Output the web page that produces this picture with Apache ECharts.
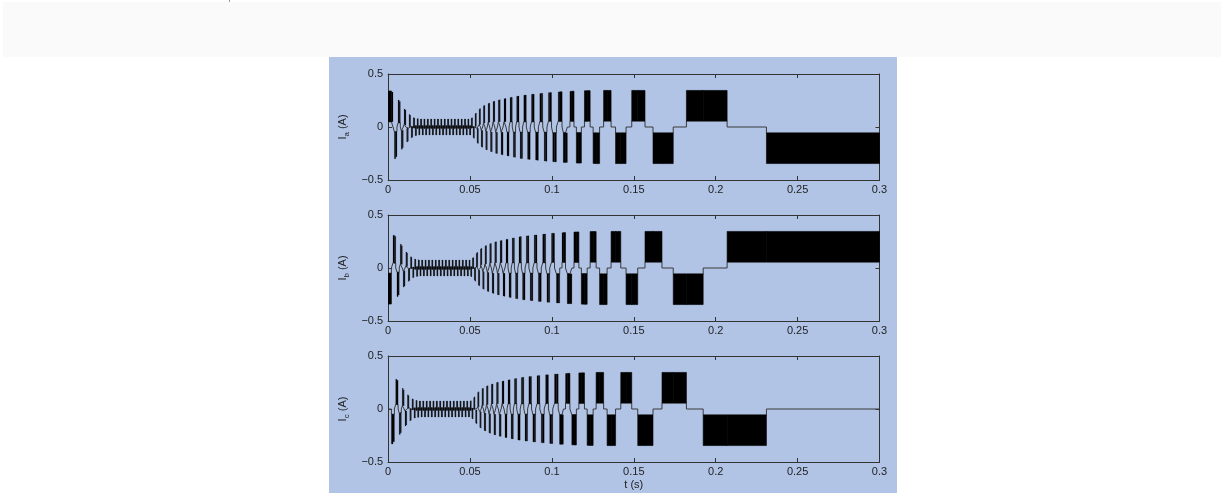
<!DOCTYPE html>
<html>
<head>
<meta charset="utf-8">
<script src="https://cdn.jsdelivr.net/npm/echarts@6/dist/echarts.min.js"></script>
<style>
  html, body { margin: 0; padding: 0; background: #ffffff; width: 1221px; height: 499px; overflow: hidden; }
  #band { position: absolute; left: 3px; top: 2px; width: 1218px; height: 55px; background: #fafafa; }
  #mark { position: absolute; left: 229px; top: 0px; width: 1px; height: 2px; background: #999; }
  #chart { position: absolute; left: 329px; top: 57px; width: 568px; height: 436px; }
</style>
</head>
<body>
<div id="band"></div>
<div id="mark"></div>
<div id="chart"></div>
<script>
// Axis tick labels
const timeTicks = ['0', '0.05', '0.1', '0.15', '0.2', '0.25', '0.3'];   // t (s)
const currentTicks = ['\u22120.5', '0', '0.5'];                          // I (A)
const phaseNames = ['a', 'b', 'c'];

// Six-step commutation: polarity of phases a, b, c, starting from the state held at t = 0
const commutation = [[1, -1, 0], [1, 0, -1], [0, 1, -1], [-1, 1, 0], [-1, 0, 1], [0, -1, 1]];

// Acceleration: [step start (ms), peak current (A), current at pulse start (A)]
const accelSteps = [
  [0, 0.34, 0.05], [2.0, 0.33, 0.05], [3.0, 0.31, 0.05], [3.85, 0.30, 0.045], [4.65, 0.28, 0.045],
  [5.40, 0.27, 0.04], [6.10, 0.255, 0.04], [6.78, 0.24, 0.04], [7.43, 0.225, 0.035], [8.05, 0.21, 0.035],
  [8.65, 0.195, 0.03], [9.23, 0.18, 0.03], [9.79, 0.17, 0.025], [10.33, 0.16, 0.02], [10.85, 0.15, 0.02],
  [11.35, 0.142, 0.015], [11.84, 0.134, 0.01], [12.32, 0.126, 0.01], [12.79, 0.119, 0.005], [13.25, 0.112, 0.0],
  [13.70, 0.106, 0.0], [14.14, 0.101, -0.005], [14.57, 0.096, -0.005], [14.99, 0.092, -0.01], [15.40, 0.088, -0.01],
  [15.80, 0.086, -0.012], [16.19, 0.084, -0.012], [16.57, 0.082, -0.015], [16.94, 0.081, -0.015], [17.30, 0.080, -0.015],
  [17.66, 0.079, -0.015], [18.01, 0.078, -0.015], [18.36, 0.077, -0.015]
];

// Constant-speed stepping: step start times (ms), with the band's peak and base current (A)
const cruiseStepMs = [
  18.70, 19.05, 19.39, 19.74, 20.08, 20.42, 20.77, 21.11, 21.46, 21.80,
  22.14, 22.49, 22.83, 23.18, 23.52, 23.86, 24.21, 24.55, 24.90, 25.24,
  25.58, 25.93, 26.27, 26.62, 26.96, 27.30, 27.65, 27.99, 28.34, 28.68,
  29.02, 29.37, 29.71, 30.06, 30.40, 30.74, 31.09, 31.43, 31.78, 32.12,
  32.46, 32.81, 33.15, 33.50, 33.84, 34.18, 34.53, 34.87, 35.22, 35.56,
  35.90, 36.25, 36.59, 36.94, 37.28, 37.62, 37.97, 38.31, 38.66, 39.00,
  39.34, 39.69, 40.03, 40.38, 40.72, 41.06, 41.41, 41.75, 42.10, 42.44,
  42.78, 43.13, 43.47, 43.82, 44.16, 44.50, 44.85, 45.19, 45.54, 45.88,
  46.22, 46.57, 46.91, 47.26, 47.60, 47.94, 48.29, 48.63, 48.98, 49.32,
  49.66, 50.01
];
const cruisePeak = 0.075;
const cruiseBase = -0.015;

// Deceleration to standstill: [step start (ms), peak current (A), current at pulse start (A)]
const brakeSteps = [
  [50.36, 0.078, -0.015], [50.73, 0.082, -0.012], [51.10, 0.088, -0.01], [51.48, 0.094, -0.008], [51.86, 0.10, -0.005],
  [52.25, 0.107, -0.002], [52.64, 0.115, 0.0], [53.04, 0.124, 0.003], [53.44, 0.132, 0.006], [53.85, 0.14, 0.009],
  [54.26, 0.148, 0.012], [54.68, 0.155, 0.015], [55.10, 0.162, 0.018], [55.53, 0.168, 0.021], [55.96, 0.174, 0.024],
  [56.40, 0.18, 0.027], [56.84, 0.186, 0.03], [57.29, 0.191, 0.032], [57.74, 0.196, 0.034], [58.20, 0.20, 0.036],
  [58.66, 0.204, 0.037], [59.13, 0.208, 0.038], [59.60, 0.212, 0.04], [60.08, 0.216, 0.041], [60.56, 0.219, 0.042],
  [61.05, 0.222, 0.043], [61.54, 0.225, 0.044], [62.04, 0.228, 0.045], [62.54, 0.231, 0.046], [63.05, 0.234, 0.047],
  [63.56, 0.237, 0.048], [64.08, 0.24, 0.049], [64.60, 0.243, 0.05], [65.13, 0.245, 0.05], [65.66, 0.248, 0.05],
  [66.20, 0.25, 0.05], [66.75, 0.252, 0.05], [67.30, 0.254, 0.05], [67.86, 0.256, 0.05], [68.43, 0.258, 0.05],
  [69.00, 0.26, 0.05], [69.58, 0.262, 0.05], [70.17, 0.264, 0.05], [70.76, 0.266, 0.05], [71.36, 0.268, 0.05],
  [71.97, 0.27, 0.05], [72.59, 0.272, 0.05], [73.21, 0.274, 0.05], [73.84, 0.276, 0.05], [74.48, 0.278, 0.05],
  [75.13, 0.28, 0.05], [75.79, 0.282, 0.05], [76.45, 0.284, 0.05], [77.12, 0.286, 0.05], [77.80, 0.288, 0.05],
  [78.49, 0.29, 0.05], [79.19, 0.292, 0.05], [79.90, 0.294, 0.05], [80.62, 0.296, 0.05], [81.35, 0.297, 0.05],
  [82.09, 0.299, 0.05], [82.84, 0.30, 0.05], [83.60, 0.302, 0.05], [84.37, 0.303, 0.05], [85.15, 0.304, 0.05],
  [85.94, 0.306, 0.05], [86.74, 0.307, 0.05], [87.55, 0.308, 0.05], [88.37, 0.31, 0.05], [89.20, 0.311, 0.05],
  [90.04, 0.312, 0.05], [90.89, 0.314, 0.05], [91.75, 0.315, 0.05], [92.62, 0.316, 0.05], [93.50, 0.318, 0.05],
  [94.39, 0.319, 0.05], [95.29, 0.32, 0.05], [96.19, 0.322, 0.05],
  [96.97, 0.323, 0.055], [97.88, 0.324, 0.055], [98.67, 0.326, 0.055], [99.77, 0.327, 0.055], [100.50, 0.328, 0.055],
  [101.60, 0.329, 0.055], [102.76, 0.33, 0.055], [103.85, 0.331, 0.055], [104.77, 0.332, 0.055], [106.17, 0.333, 0.055],
  [107.02, 0.334, 0.055], [108.30, 0.335, 0.055], [109.46, 0.336, 0.055], [110.98, 0.337, 0.055], [112.20, 0.338, 0.055],
  [113.48, 0.339, 0.055], [114.94, 0.34, 0.055], [116.46, 0.34, 0.055], [117.98, 0.341, 0.055], [119.87, 0.342, 0.055],
  [121.52, 0.343, 0.057], [123.34, 0.344, 0.057], [125.17, 0.344, 0.057], [127.00, 0.345, 0.057], [129.13, 0.345, 0.057],
  [131.57, 0.345, 0.057], [133.70, 0.345, 0.057], [136.13, 0.345, 0.057], [138.87, 0.345, 0.057], [142.04, 0.345, 0.057],
  [145.27, 0.345, 0.057], [148.74, 0.345, 0.057], [152.40, 0.345, 0.057], [156.84, 0.345, 0.057], [161.72, 0.345, 0.057],
  [167.20, 0.345, 0.057], [174.08, 0.345, 0.057], [182.12, 0.345, 0.057], [192.35, 0.345, 0.057], [206.97, 0.345, 0.057],
  [230.97, 0.345, 0.057]
];
const recordEndMs = 300;

// ---- build the per-phase pulses and the off-state trace ----
const steps = accelSteps
  .concat(cruiseStepMs.map(t => [t, cruisePeak, cruiseBase]))
  .concat(brakeSteps);

function phaseData(p) {
  const bars = [], trace = [];
  for (let i = 0; i < steps.length; i++) {
    const s = commutation[i % 6][p];
    const t0 = steps[i][0] / 1000;
    const t1 = (i + 1 < steps.length ? steps[i + 1][0] : recordEndMs) / 1000;
    const base = s * Math.max(steps[i][2], 0);
    if (s !== 0) bars.push([t0, t1, s * steps[i][2], s * steps[i][1]]);
    trace.push([t0, base], [t1, base]);
  }
  return { bars, trace };
}

const FONT = '"Liberation Sans", Arial, Helvetica, sans-serif';
const INK = '#333';
const gridTops = [17, 158, 299];

const grid = gridTops.map(top => ({ left: 57.5, top: top, width: 493, height: 106 }));

const tickStyle = { show: true, inside: true, length: 4, lineStyle: { color: INK, width: 1 } };
const lineStyleAxis = { show: true, onZero: false, lineStyle: { color: INK, width: 1 } };

const xAxis = [], yAxis = [], series = [];
gridTops.forEach((_, i) => {
  const common = { type: 'value', gridIndex: i, min: 0, max: 0.3, interval: 0.05, splitLine: { show: false } };
  xAxis.push(Object.assign({}, common, {
    position: 'bottom',
    axisLine: lineStyleAxis, axisTick: tickStyle,
    axisLabel: {
      show: true, margin: 4, color: '#222', fontSize: 11, fontFamily: FONT,
      showMinLabel: true, showMaxLabel: true,
      formatter: v => timeTicks[Math.round(v / 0.05)]
    },
    name: i === 2 ? 't (s)' : '', nameLocation: 'middle', nameGap: 17,
    nameTextStyle: { color: '#222', fontSize: 11, fontFamily: FONT }
  }));
  xAxis.push(Object.assign({}, common, {
    position: 'top',
    axisLine: lineStyleAxis, axisTick: tickStyle, axisLabel: { show: false }
  }));
  const ycommon = { type: 'value', gridIndex: i, min: -0.5, max: 0.5, interval: 0.5, splitLine: { show: false } };
  yAxis.push(Object.assign({}, ycommon, {
    position: 'left',
    axisLine: lineStyleAxis, axisTick: tickStyle,
    axisLabel: {
      show: true, margin: 5, color: '#222', fontSize: 11, fontFamily: FONT,
      showMinLabel: true, showMaxLabel: true,
      formatter: v => currentTicks[Math.round(v / 0.5) + 1]
    },
    name: '{m|I}{s|' + phaseNames[i] + '}{m| (A)}',
    nameLocation: 'middle', nameRotate: 90, nameGap: 34,
    nameTextStyle: {
      fontFamily: FONT, color: '#222',
      rich: {
        m: { fontSize: 11, lineHeight: 16, color: '#222', fontFamily: FONT, verticalAlign: 'middle' },
        s: { fontSize: 8, lineHeight: 8, color: '#222', fontFamily: FONT, verticalAlign: 'bottom' }
      }
    }
  }));
  yAxis.push(Object.assign({}, ycommon, {
    position: 'right',
    axisLine: lineStyleAxis, axisTick: tickStyle, axisLabel: { show: false }
  }));

  const d = phaseData(i);
  series.push({
    type: 'line', xAxisIndex: 2 * i, yAxisIndex: 2 * i,
    data: d.trace, showSymbol: false, silent: true, z: 2,
    lineStyle: { color: '#3a3a3a', width: 1 }
  });
  series.push({
    type: 'custom', xAxisIndex: 2 * i, yAxisIndex: 2 * i,
    data: d.bars, silent: true, z: 3, clip: true,
    encode: { x: [0, 1], y: [2, 3] },
    renderItem: (params, api) => {
      const a = api.coord([api.value(0), api.value(2)]);
      const b = api.coord([api.value(1), api.value(3)]);
      const w = b[0] - a[0];
      return {
        type: 'rect',
        shape: { x: a[0], y: Math.min(a[1], b[1]), width: Math.max(w, 0.7), height: Math.abs(b[1] - a[1]) },
        style: { fill: '#000', stroke: '#000', lineWidth: w > 2 ? 0.6 : 0.2 }
      };
    }
  });
});

const chart = echarts.init(document.getElementById('chart'), null, { renderer: 'canvas' });
chart.setOption({
  backgroundColor: '#b1c4e6',
  animation: false,
  grid, xAxis, yAxis, series
});
</script>
</body>
</html>
